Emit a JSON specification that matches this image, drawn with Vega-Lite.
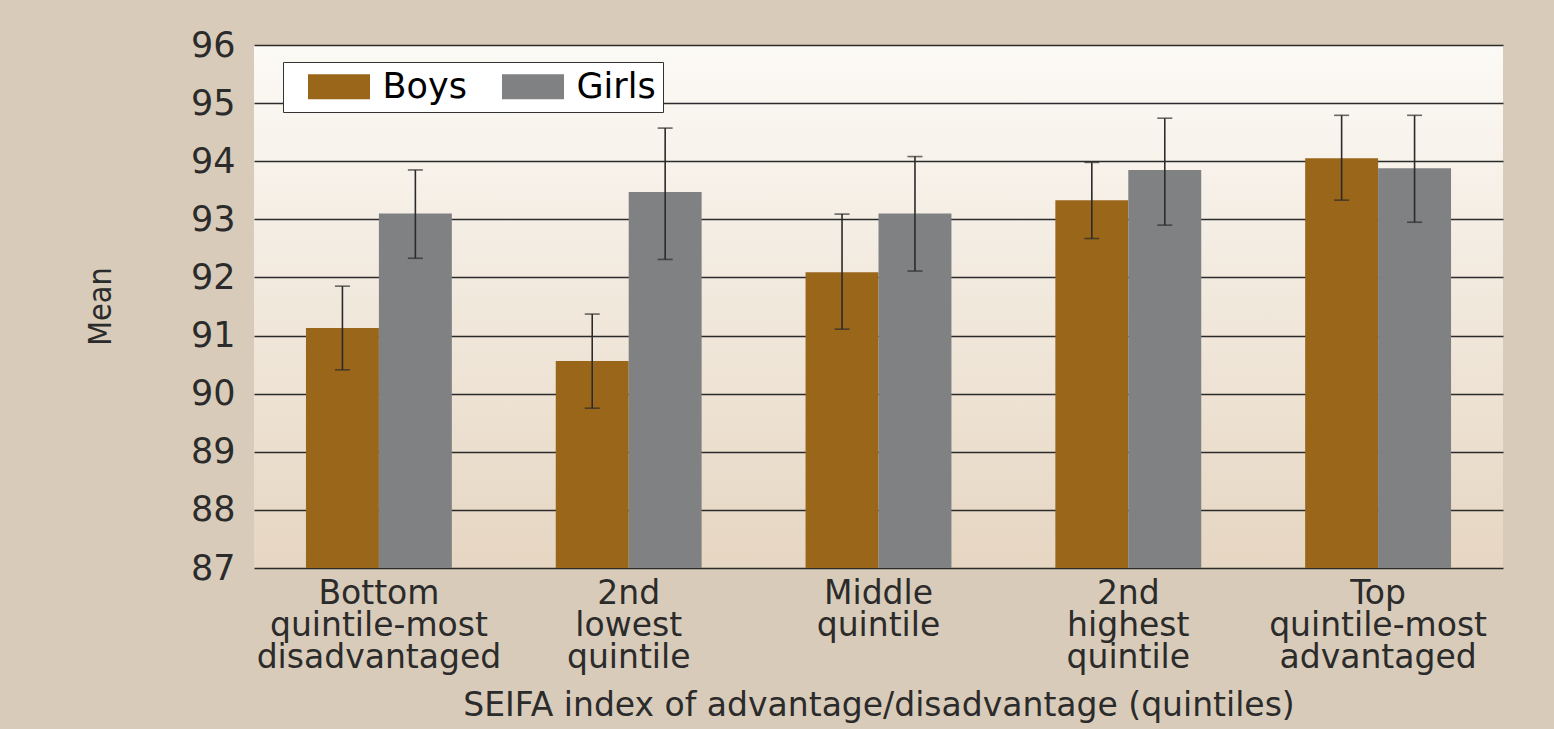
{
  "$schema": "https://vega.github.io/schema/vega-lite/v6.json",
  "autosize": "none",
  "width": 1249,
  "height": 523,
  "padding": {"left": 254, "top": 45, "right": 51, "bottom": 161},
  "background": "#d9cbb9",
  "config": {
    "view": {
      "stroke": null,
      "fill": {"gradient": "linear", "x1": 0, "y1": 0, "x2": 0, "y2": 1, "stops": [{"offset": 0, "color": "#fcfaf6"}, {"offset": 1, "color": "#e6d6c2"}]}
    },
    "axis": {"labelColor": "#2b2b2b", "titleColor": "#2b2b2b"}
  },
  "data": {
    "values": [
      {"q": "Bottom|quintile-most|disadvantaged", "sex": "Boys", "mean": 91.13, "lo": 90.41, "hi": 91.85},
      {"q": "Bottom|quintile-most|disadvantaged", "sex": "Girls", "mean": 93.1, "lo": 92.33, "hi": 93.85},
      {"q": "2nd|lowest|quintile", "sex": "Boys", "mean": 90.56, "lo": 89.75, "hi": 91.37},
      {"q": "2nd|lowest|quintile", "sex": "Girls", "mean": 93.47, "lo": 92.31, "hi": 94.57},
      {"q": "Middle|quintile", "sex": "Boys", "mean": 92.09, "lo": 91.11, "hi": 93.09},
      {"q": "Middle|quintile", "sex": "Girls", "mean": 93.1, "lo": 92.11, "hi": 94.08},
      {"q": "2nd|highest|quintile", "sex": "Boys", "mean": 93.33, "lo": 92.67, "hi": 93.98},
      {"q": "2nd|highest|quintile", "sex": "Girls", "mean": 93.85, "lo": 92.9, "hi": 94.74},
      {"q": "Top|quintile-most|advantaged", "sex": "Boys", "mean": 94.05, "lo": 93.33, "hi": 94.79},
      {"q": "Top|quintile-most|advantaged", "sex": "Girls", "mean": 93.88, "lo": 92.95, "hi": 94.79}
    ]
  },
  "encoding": {
    "x": {
      "field": "q", "type": "nominal", "sort": null,
      "scale": {"paddingInner": 0.416, "paddingOuter": 0.208},
      "axis": {
        "title": "SEIFA index of advantage/disadvantage (quintiles)",
        "titleFont": "DejaVu Sans", "titleFontSize": 33, "titleFontWeight": "normal",
        "titleY": 137, "titleBaseline": "middle",
        "labelExpr": "split(datum.label, '|')",
        "labelFont": "DejaVu Sans", "labelFontSize": 33, "labelLineHeight": 32,
        "labelPadding": 9, "labelLimit": 0,
        "labelAngle": 0, "ticks": false, "domain": false
      }
    },
    "xOffset": {"field": "sex", "type": "nominal", "scale": {"paddingInner": 0, "paddingOuter": 0}}
  },
  "layer": [
    {
      "mark": {"type": "bar", "clip": true},
      "encoding": {
        "y": {
          "field": "mean", "type": "quantitative",
          "scale": {"domain": [87, 96], "nice": false, "zero": false},
          "axis": {
            "title": "Mean", "values": [87, 88, 89, 90, 91, 92, 93, 94, 95, 96], "format": "d",
            "titleFont": "DejaVu Sans Condensed", "titleFontSize": 32, "titleFontWeight": "normal",
            "titleX": -154, "titleY": 261, "titleAngle": -90, "titleAlign": "center", "titleBaseline": "middle",
            "labelFont": "DejaVu Sans", "labelFontSize": 35, "labelPadding": 19,
            "ticks": false, "domain": false,
            "grid": true, "gridColor": "#2b2b2b", "gridWidth": 1.5, "gridOpacity": 1
          }
        },
        "y2": {"datum": 87},
        "color": {
          "field": "sex", "type": "nominal",
          "scale": {"domain": ["Boys", "Girls"], "range": ["#9a6619", "#808183"]},
          "legend": {
            "title": null, "orient": "none", "legendX": 29, "legendY": 17,
            "direction": "horizontal",
            "symbolType": "M-2,-0.8L2,-0.8L2,0.8L-2,0.8Z", "symbolSize": 961,
            "symbolStrokeWidth": 0, "symbolOpacity": 1, "symbolOffset": 31.5,
            "labelExpr": "datum.label == 'Girls' ? 'Girls\u00a0\u00a0\u00a0' : datum.label",
            "labelFont": "DejaVu Sans", "labelFontSize": 35, "labelColor": "#000000",
            "labelOffset": 26, "columnPadding": 17,
            "fillColor": "#ffffff", "strokeColor": "#333333", "padding": 7
          }
        }
      }
    },
    {
      "mark": {"type": "rule", "color": "#2b2b2b", "strokeWidth": 1.6},
      "encoding": {
        "y": {"field": "lo", "type": "quantitative"},
        "y2": {"field": "hi"}
      }
    },
    {
      "mark": {"type": "tick", "color": "#2b2b2b", "thickness": 1.6, "size": 15, "orient": "horizontal"},
      "encoding": {"y": {"field": "lo", "type": "quantitative"}}
    },
    {
      "mark": {"type": "tick", "color": "#2b2b2b", "thickness": 1.6, "size": 15, "orient": "horizontal"},
      "encoding": {"y": {"field": "hi", "type": "quantitative"}}
    }
  ]
}
